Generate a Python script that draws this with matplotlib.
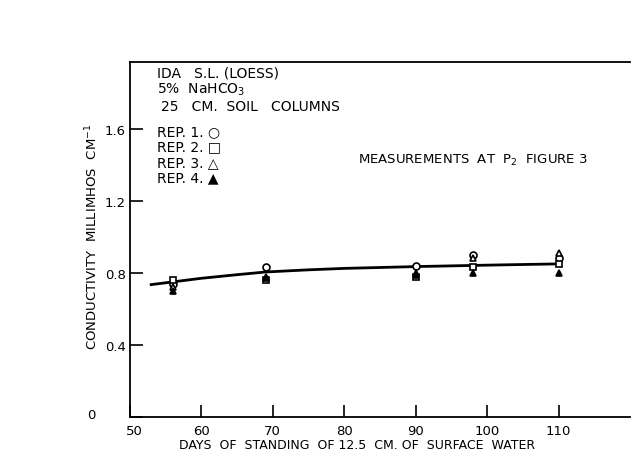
import matplotlib.pyplot as plt
from matplotlib.transforms import ScaledTranslation

# days of standing
days = [56, 69, 90, 98, 110]
rep1 = [0.74, 0.83, 0.84, 0.90, 0.88]
rep2 = [0.76, 0.76, 0.78, 0.83, 0.85]
rep3 = [0.72, 0.78, 0.80, 0.88, 0.91]
rep4 = [0.70, 0.77, 0.79, 0.80, 0.80]

# smoothed curve drawn through the points
curve_days = [53, 56, 60, 65, 69, 75, 80, 90, 100, 110]
curve_cond = [0.735, 0.75, 0.77, 0.79, 0.805, 0.817, 0.825, 0.835, 0.843, 0.85]

plt.rcParams['font.family'] = ['DejaVu Sans']
fig = plt.figure(figsize=(6.39, 4.56), dpi=100)
ax = fig.add_axes([0.203, 0.083, 0.783, 0.779])

ax.plot(curve_days, curve_cond, color='black', lw=2)
ms = 5
ax.plot(days, rep1, 'o', mfc='white', mec='black', ms=ms, mew=1.2)
ax.plot(days, rep2, 's', mfc='white', mec='black', ms=ms, mew=1.2)
ax.plot(days, rep3, '^', mfc='white', mec='black', ms=ms, mew=1.2)
ax.plot(days, rep4, '^', mfc='black', mec='black', ms=ms, mew=1.2)

ax.set_xlim(50, 120)
ax.set_ylim(0, 1.97)
ax.set_xticks([50, 60, 70, 80, 90, 100, 110])
ax.set_xticklabels(['50', '60', '70', '80', '90', '100', '110'])
ax.set_yticks([0, 0.4, 0.8, 1.2, 1.6])
ax.set_yticklabels(['0', '0.4', '0.8', '1.2', '1.6'])
ax.tick_params(direction='in', length=9, width=1.2, labelsize=9.5)
ax.tick_params(axis='x', pad=5)
ax.tick_params(axis='y', pad=3)
ax.spines['right'].set_visible(False)
for s in ['left', 'bottom', 'top']:
    ax.spines[s].set_linewidth(1.3)

# the "0" sits further left and "50" slightly right, as in the original
lab0 = ax.get_yticklabels()[0]
lab0.set_transform(lab0.get_transform() + ScaledTranslation(-0.3, 0.04, fig.dpi_scale_trans))
lab50 = ax.get_xticklabels()[0]
lab50.set_transform(lab50.get_transform() + ScaledTranslation(0.05, 0, fig.dpi_scale_trans))

ax.set_xlabel('DAYS  OF  STANDING  OF 12.5  CM. OF  SURFACE  WATER', fontsize=9)
ax.xaxis.set_label_coords(0.454, -0.058)
ax.set_ylabel('CONDUCTIVITY  MILLIMHOS  CM$^{-1}$', fontsize=9.5)
ax.yaxis.set_label_coords(-0.058, 0.51)

tx = 0.054
fs = 10
ax.text(tx, 0.969, 'IDA   S.L. (LOESS)', transform=ax.transAxes, fontsize=fs, va='center')
ax.text(tx, 0.924, '5%  NaHCO$_3$', transform=ax.transAxes, fontsize=fs, va='center')
ax.text(tx + 0.008, 0.876, '25   CM.  SOIL   COLUMNS', transform=ax.transAxes, fontsize=fs, va='center')
ax.text(tx, 0.806, 'REP. 1. \u25cb', transform=ax.transAxes, fontsize=fs, va='center')
ax.text(tx, 0.763, 'REP. 2. \u25a1', transform=ax.transAxes, fontsize=fs, va='center')
ax.text(tx, 0.718, 'REP. 3. \u25b3', transform=ax.transAxes, fontsize=fs, va='center')
ax.text(tx, 0.676, 'REP. 4. \u25b2', transform=ax.transAxes, fontsize=fs, va='center')
ax.text(0.456, 0.725, 'MEASUREMENTS  AT  P$_2$  FIGURE 3', transform=ax.transAxes, fontsize=9.5, va='center')

fig.savefig('out.png', dpi=100)
